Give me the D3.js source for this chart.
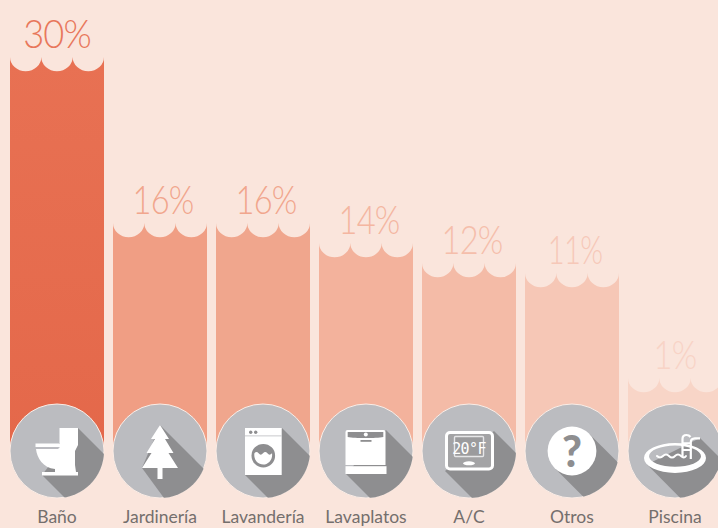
<!DOCTYPE html>
<html><head><meta charset="utf-8">
<script src="https://cdn.jsdelivr.net/npm/d3@7/dist/d3.min.js"></script>
<style>html,body{margin:0;padding:0;background:#FAE5DC;overflow:hidden}svg{display:block}</style>
</head><body><svg id="c" width="718" height="528"></svg>
<script>
const categories = ["Baño","Jardinería","Lavandería","Lavaplatos","A/C","Otros","Piscina"];
const shares = [30,16,16,14,12,11,1];
const barColors = ["#E87153","#F09E84","#F0A68D","#F3B29C","#F4BBA7","#F6C7B6","#F8D5C7"];
const labelColors = ["#E8775B","#F1A68D","#F1A68D","#F4B6A1","#F5BEAB","#F6C8B8","#F8D3C6"];
const iconKinds = ["toilet","tree","washer","dishwasher","thermostat","question","pool"];

const W=718,H=528,bg="#FAE5DC",disc="#BBBCC0",shade="#8E8E90";
const svg=d3.select("#c");
svg.append("rect").attr("width",W).attr("height",H).attr("fill",bg);
const x=d3.scaleBand().domain(categories).range([10,722]).paddingInner(9/103).paddingOuter(0);
const y=d3.scaleLinear().domain([1,11,16,30]).range([378,273,223,57]);
const bw=x.bandwidth(),baseY=451,R=47;
const defs=svg.append("defs");

function barPath(d,i){
  const x0=x(categories[i]),t=y(d),w=bw/3,rx=w/2,ry=14.3;
  let p=`M${x0},${baseY}L${x0},${t}`;
  for(let k=1;k<=3;k++)p+=`A${rx},${ry} 0 0 0 ${x0+w*k},${t}`;
  return p+`L${x0+bw},${baseY}Z`;
}
const g0=defs.append("linearGradient").attr("id","g0").attr("x1",0).attr("x2",0).attr("y1",0).attr("y2",1);
g0.append("stop").attr("offset",0).attr("stop-color",barColors[0]);
g0.append("stop").attr("offset",1).attr("stop-color","#E4684A");
shares.forEach((d,i)=>{
  defs.append("clipPath").attr("id","cp"+i).append("circle").attr("r",R);
});
svg.selectAll("path.bar").data(shares).join("path").attr("class","bar").attr("d",barPath)
  .attr("fill",(d,i)=>i===0?"url(#g0)":barColors[i]);

svg.selectAll("text.pct").data(shares).join("text").attr("class","pct")
  .attr("transform",(d,i)=>{
    const s=String(d), ones=s.split("1").length-1, nudge=(s[0]==="1"&&s.length===2)?3:0;
    return `translate(${x(categories[i])+bw/2+nudge},${y(d)-9.5}) scale(${.93-.09*ones},1)`;
  })
  .attr("text-anchor","middle").attr("font-family","Lato").attr("font-weight",300).attr("font-size",39)
  .attr("letter-spacing",-1).attr("fill",(d,i)=>labelColors[i])
  .text(d=>d+"%");

const shadows={
  toilet:"M21,-23L91,47L55,94L-15,24Z",
  tree:"M0,-26L70,44L34,88L-18,17Z",
  washer:"M19,-23L89,47L52,94L-18,24Z",
  dishwasher:"M20,-21L90,49L50,93L-20,23Z",
  thermostat:"M25,-20L95,50L46,90L-24,20Z",
  question:"M17.2,-17.2L87.2,52.8L52.8,87.2L-17.2,17.2Z",
  pool:"M25,-13L95,57L42,84L-28,13.5Z"
};
const W_="#fff";
function ellipse(cx,cy,rx,ry){return `M${cx-rx},${cy}A${rx},${ry} 0 1 0 ${cx+rx},${cy}A${rx},${ry} 0 1 0 ${cx-rx},${cy}Z`;}
const draw={
  toilet(g){
    g.append("path").attr("fill",W_).attr("d","M2.5,-23H21V-6L18,0V14L19,21H21V24.5H-15V21H-2V18C-14,17 -20,7 -21,-2H1.5V-7H2.5Z");
    g.append("rect").attr("x",-21.5).attr("y",-7.5).attr("width",23.5).attr("height",3.6).attr("fill",W_);
    g.append("rect").attr("x",-21.5).attr("y",-3.9).attr("width",24).attr("height",1).attr("fill",disc);
  },
  tree(g){
    g.append("path").attr("fill",W_).attr("d","M0,-26L9,-12H5L13.5,2H8.5L18,17H2.5V28H-2.5V17H-18L-8.5,2H-13.5L-5,-12H-9Z");
  },
  washer(g){
    g.append("rect").attr("x",-18).attr("y",-23).attr("width",36.7).attr("height",47).attr("fill",W_);
    g.append("rect").attr("x",-18).attr("y",-15.5).attr("width",36.7).attr("height",.8).attr("fill",disc);
    [-12.3,-7.3].forEach(a=>g.append("circle").attr("cx",a).attr("cy",-18.8).attr("r",1.7).attr("fill",shade));
    g.append("circle").attr("cx",.3).attr("cy",4.7).attr("r",11.8).attr("fill",shade);
    g.append("path").attr("fill",W_).attr("d","M-8.6,2.3Q-6.5,-.5 -4.4,2.3T0,2.3T4.4,2.3T9,2.3C10,9 5,13.6 .3,13.6C-5,13.6 -9.6,9 -8.6,2.3Z");
  },
  dishwasher(g){
    g.append("path").attr("fill",W_).attr("d","M-18.5,-21H17.5Q19.5,-21 19.5,-19V14H-20.5V-19Q-20.5,-21 -18.5,-21Z");
    g.append("path").attr("fill",shade).attr("d","M-18.3,-19H17.3V-14C10,-12.6 -11,-12.6 -18.3,-14Z");
    g.append("circle").attr("cx",-.2).attr("cy",-16.4).attr("r",2).attr("fill",W_);
    g.append("rect").attr("x",-5.5).attr("y",-11).attr("width",11).attr("height",1.8).attr("fill",shade);
    g.append("rect").attr("x",-20.5).attr("y",15.2).attr("width",41).attr("height",7.8).attr("fill",W_);
  },
  thermostat(g){
    g.append("rect").attr("x",-22.5).attr("y",-18.5).attr("width",46).attr("height",36.5).attr("rx",3.5)
      .attr("fill","#A3A3A5").attr("stroke",W_).attr("stroke-width",3);
    g.append("rect").attr("x",-14.5).attr("y",-14.5).attr("width",29).attr("height",20).attr("rx",1)
      .attr("fill","#9B9B9D").attr("stroke","#E6E6E8").attr("stroke-width",1.4);
    g.append("text").attr("x",0).attr("y",2.5).attr("text-anchor","middle").attr("font-family","DejaVu Sans Mono")
      .attr("fill",W_).attr("letter-spacing",-.6).attr("font-size",15).text("20°F");
    g.append("ellipse").attr("cx",0).attr("cy",12.3).attr("rx",6).attr("ry",2).attr("fill",W_);
  },
  question(g){
    g.append("circle").attr("r",24.4).attr("fill",W_);
    g.append("text").attr("y",15.5).attr("text-anchor","middle").attr("font-family","Lato").attr("font-weight",900)
      .attr("font-size",43).attr("fill",shade).text("?");
  },
  pool(g){
    g.append("path").attr("fill",W_).attr("fill-rule","evenodd")
      .attr("d",ellipse(0,7,31,15)+ellipse(0,5.2,26,10.6));
    g.append("path").attr("fill","none").attr("stroke",W_).attr("stroke-width",2).attr("stroke-linecap","round")
      .attr("d","M-18,5Q-15,8 -12,5T-6,5T0,5T6,5T11,5");
    g.append("path").attr("fill","none").attr("stroke",W_).attr("stroke-width",2.2)
      .attr("d","M7.5,6V-12Q7.5,-16 11.5,-16Q14,-16 15.5,-14M15.8,8V-9Q15.8,-12.5 20,-12.7H25M7.5,-7.7H15.8M7.5,-1H15.8");
  }
};

categories.forEach((c,i)=>{
  const g=svg.append("g").attr("transform",`translate(${x(c)+bw/2},${baseY})`);
  g.append("circle").attr("r",R).attr("fill",disc).attr("stroke","#FBEDE6").attr("stroke-width",1);
  g.append("path").attr("d",shadows[iconKinds[i]]).attr("fill",shade).attr("clip-path",`url(#cp${i})`);
  draw[iconKinds[i]](g);
});
svg.selectAll("text.cat").data(categories).join("text").attr("class","cat")
  .attr("x",d=>x(d)+bw/2).attr("y",523).attr("text-anchor","middle")
  .attr("font-family","Lato").attr("font-size",17.5).attr("fill","#746F6D").text(d=>d);
</script></body></html>
